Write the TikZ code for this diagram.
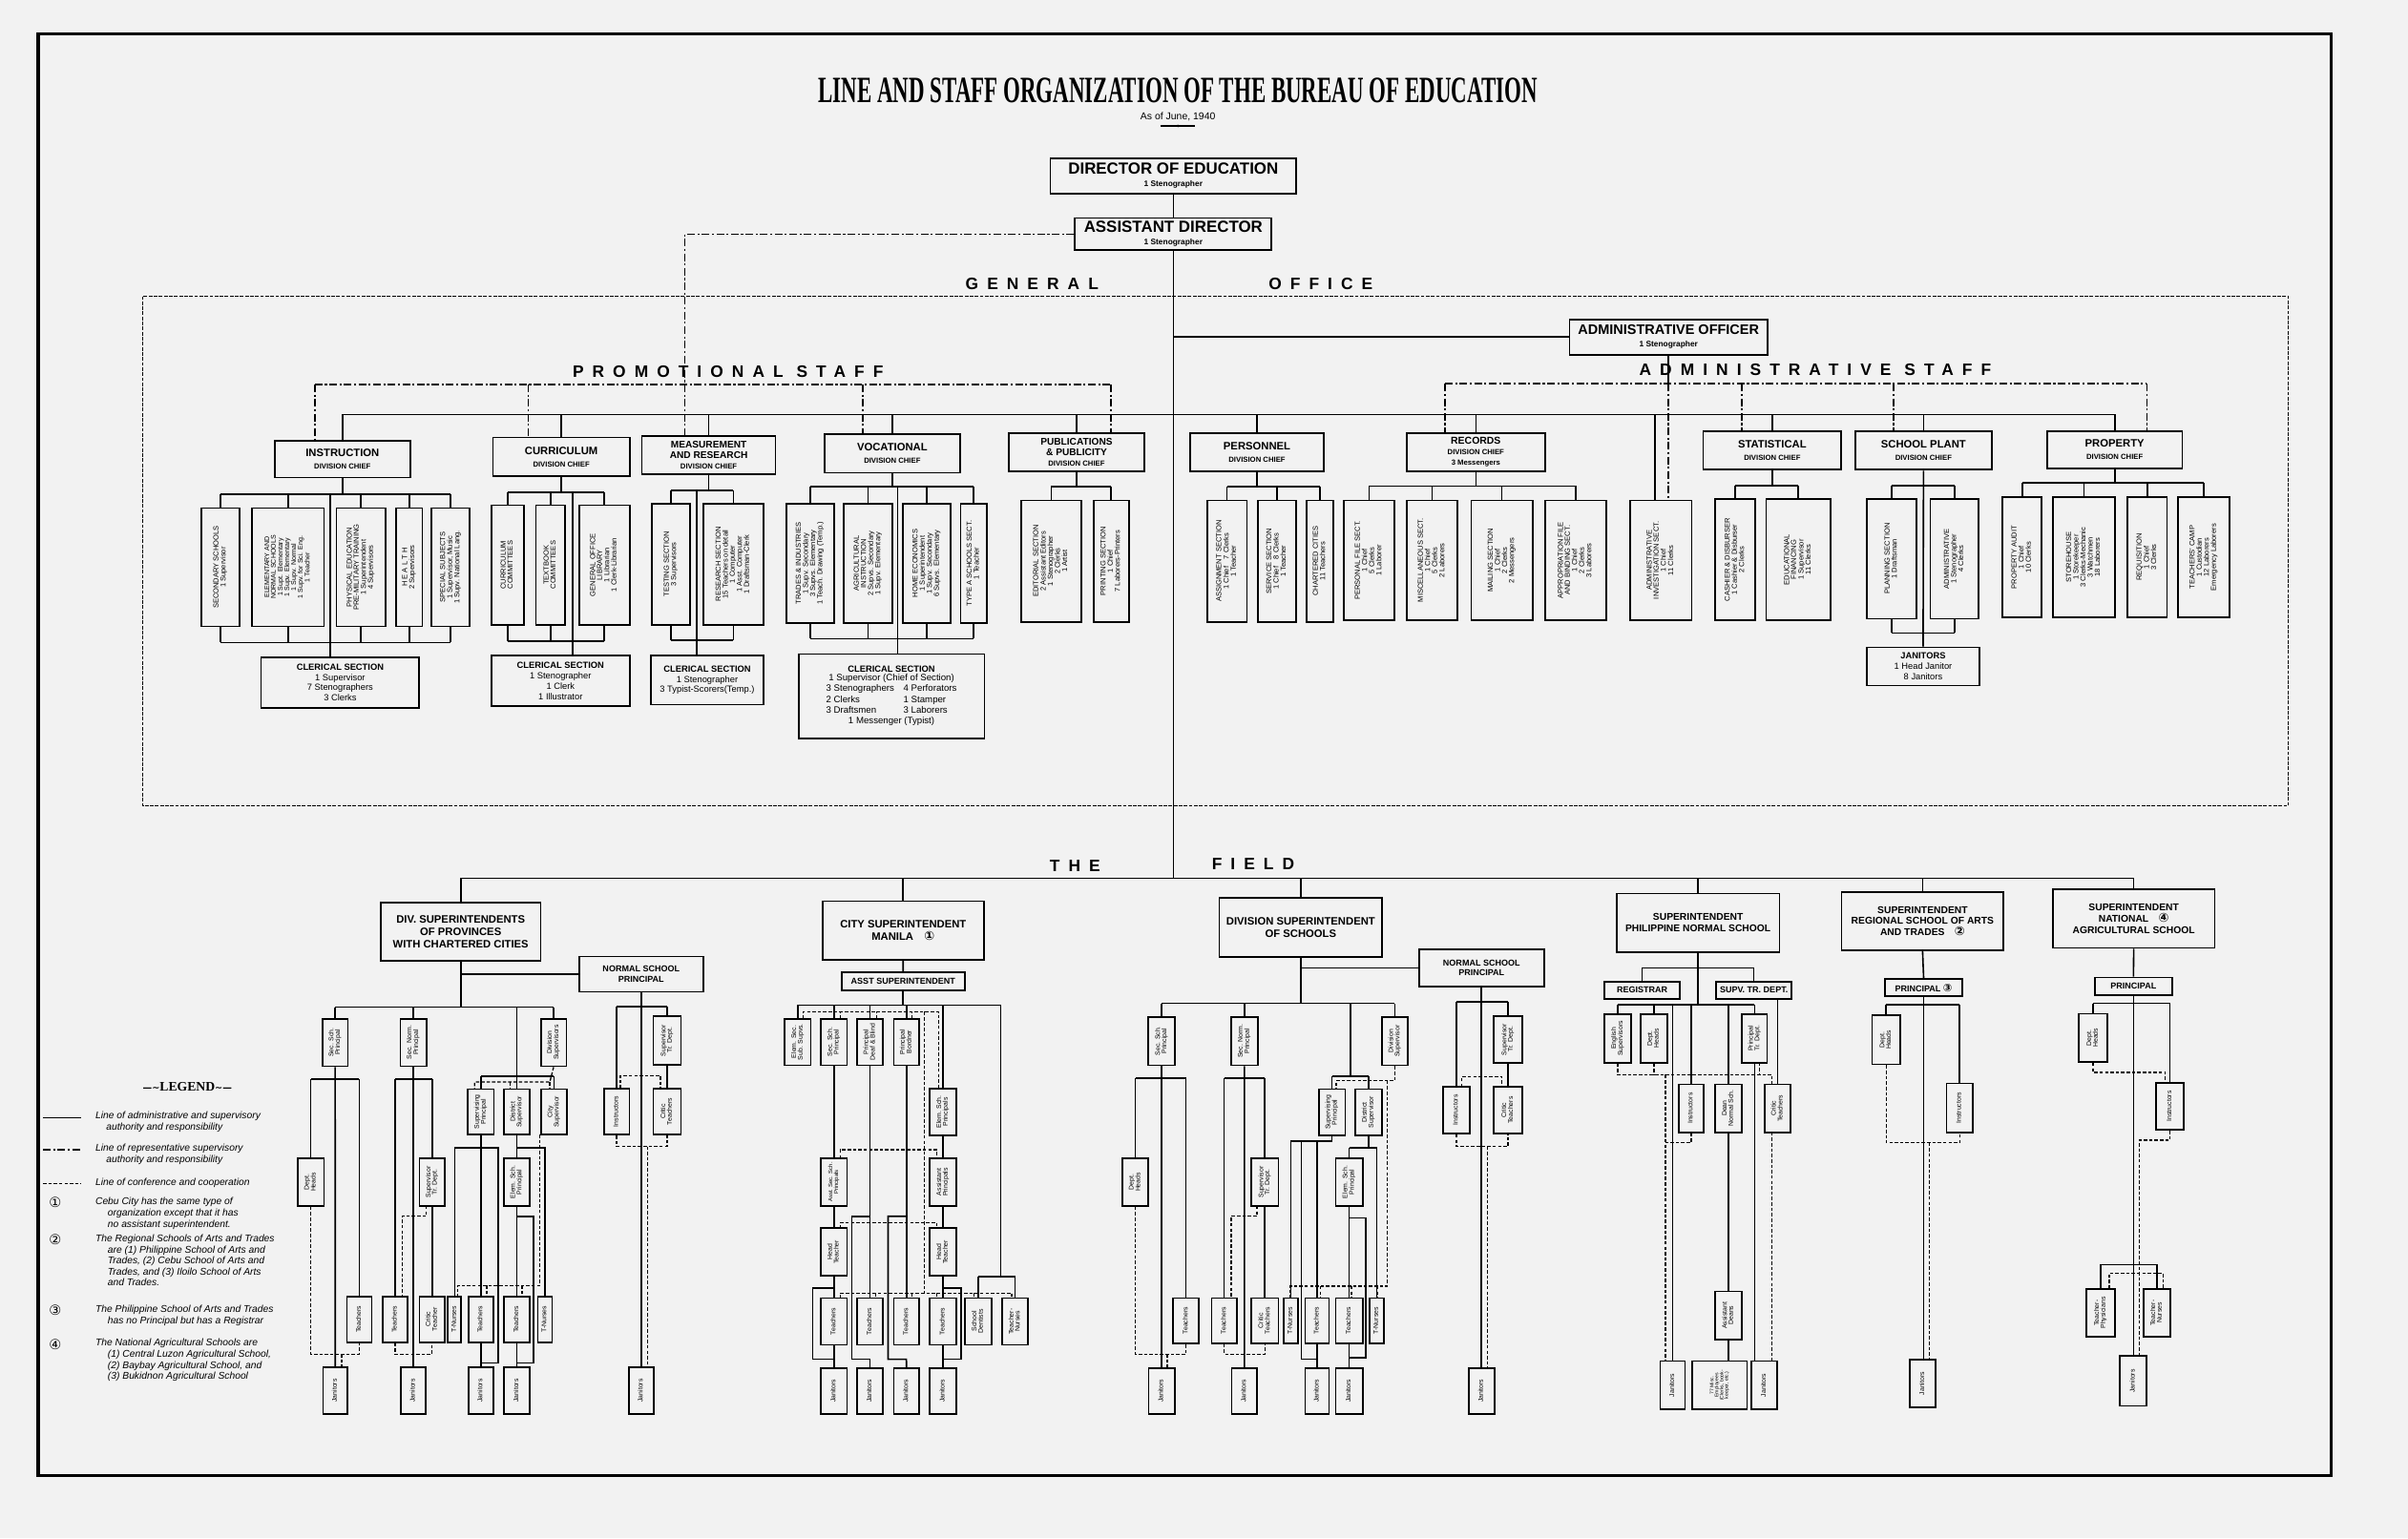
\documentclass[tikz,border=0pt]{standalone}
\usepackage{fontspec}
\usepackage{graphicx}
\setmainfont{Liberation Sans}
\newfontfamily\serifB{Liberation Serif}
\newfontfamily\spaceF[LetterSpace=52]{Liberation Sans}
\newfontfamily\djv{DejaVu Sans}
\pgfdeclarelayer{back}
\pgfdeclarelayer{bg}
\pgfsetlayers{back,bg,main}
\definecolor{paper}{gray}{0.95}
\renewcommand\arraystretch{0.8}
\newcommand\zD{\fontsize{10.5}{11.5}\selectfont\bfseries}
\newcommand\zS{\fontsize{5.2}{6}\selectfont}
\newcommand\zH{\fontsize{7}{8}\selectfont\bfseries}
\newcommand\zd{\fontsize{4.8}{5.6}\selectfont\bfseries}
\newcommand\zv{\fontsize{4.7}{5.3}\selectfont}
\newcommand\zj{\fontsize{4.3}{4.8}\selectfont}
\newcommand\zf{\fontsize{7}{8}\selectfont\bfseries}
\newcommand\zc{\fontsize{5.8}{6.6}\selectfont\bfseries}
\newcommand\zs{\fontsize{5.8}{6.7}\selectfont}
\newcommand\zF{\fontsize{5.6}{6.5}\selectfont\bfseries}
\tikzset{
 hb/.style={draw,line width=1.1pt,fill=paper,inner sep=0pt,align=center,font=\zH},
 vb/.style={hb,font=\zv},
 fj/.style={font=\zj},
 fh/.style={font=\zf},
 ln/.style={line width=1pt},
 dd/.style={line width=1.05pt,dash pattern=on 5pt off 1.6pt on 1.3pt off 1.6pt},
 ds/.style={line width=0.8pt,dash pattern=on 2.2pt off 1.3pt},
 go/.style={line width=0.9pt,dash pattern=on 2.4pt off 0.9pt},
 spc/.style={font=\spaceF\fontsize{10.8}{12}\selectfont\bfseries},
 leg/.style={font=\fontsize{6.4}{7.2}\selectfont\itshape,align=left,anchor=north west,inner sep=0pt},
 cn/.style={font=\djv\fontsize{9}{9}\selectfont,inner sep=0pt},
}
\newcommand\HB[7][]{\node[hb,#1,minimum width={(#5-#3)*1pt},minimum height={(#6-#4)*1pt}] (#2) at ({(#3+#5)/2},{(#4+#6)/2}) {#7};}
\newcommand\VB[7][]{\node[vb,#1,minimum width={(#5-#3)*1pt},minimum height={(#6-#4)*1pt}] (#2) at ({(#3+#5)/2},{(#4+#6)/2}) {\rotatebox{90}{\begin{tabular}{@{}c@{}}#7\end{tabular}}};}
\newcommand\Up[2]{\draw[ln] (#1.north) -- (#1.north |- 0,#2);}
\newcommand\Dn[2]{\draw[ln] (#1.south) -- (#1.south |- 0,#2);}
\begin{document}
\begin{tikzpicture}[x=1pt,y=-1pt]
\useasboundingbox (0,0) rectangle (1568,1002);
\begin{pgfonlayer}{back}
\fill[paper] (0,0) rectangle (1568,1002);
\end{pgfonlayer}
% ---------------- title -----------------
\node (title) at (767,59) {\resizebox{468pt}{16pt}{\serifB\bfseries LINE AND STAFF ORGANIZATION OF THE BUREAU OF EDUCATION}};
\node[font=\fontsize{6.5}{7}\selectfont] (asof) at (767,76) {As of June, 1940};
% ---------------- top -------------------
\HB{dir}{684}{103}{844}{126}{{\zD DIRECTOR OF EDUCATION}\\{\zS 1 Stenographer}}
\HB{asst}{700}{142}{828}{163}{{\zD ASSISTANT DIRECTOR}\\{\zS 1 Stenographer}}
\node[spc] (gen) at (672,185) {GENERAL};
\node[spc] (off) at (860,185) {OFFICE};
\HB{ao}{1022}{208}{1151}{231}{{\fontsize{9}{10}\selectfont\bfseries ADMINISTRATIVE OFFICER}\\{\zS 1 Stenographer}}
\node[spc] (pst) at (474,242) {PROMOTIONAL STAFF};
\node[spc] (ast) at (1182,241) {ADMINISTRATIVE STAFF};
% division boxes
\HB{inst}{179}{287}{267}{311}{INSTRUCTION\\{\zd DIVISION CHIEF}}
\HB{curr}{321}{285}{410}{310}{CURRICULUM\\{\zd DIVISION CHIEF}}
\HB[font=\fontsize{6.3}{6.6}\selectfont\bfseries]{meas}{418}{284}{505}{309}{MEASUREMENT\\AND RESEARCH\\{\zd DIVISION CHIEF}}
\HB{voc}{537}{283}{625}{308}{VOCATIONAL\\{\zd DIVISION CHIEF}}
\HB[font=\fontsize{6.3}{6.6}\selectfont\bfseries]{pub}{657}{282}{745}{307}{PUBLICATIONS\\\& PUBLICITY\\{\zd DIVISION CHIEF}}
\HB{pers}{775}{282}{862}{307}{PERSONNEL\\{\zd DIVISION CHIEF}}
\HB[font=\fontsize{6.5}{6.8}\selectfont\bfseries]{rec}{916}{282}{1006}{307}{RECORDS\\{\zd DIVISION CHIEF}\\{\zd 3 Messengers}}
\HB{stat}{1109}{281}{1199}{306}{STATISTICAL\\{\zd DIVISION CHIEF}}
\HB{sp}{1208}{281}{1297}{306}{SCHOOL PLANT\\{\zd DIVISION CHIEF}}
\HB{prop}{1333}{281}{1421}{305}{PROPERTY\\{\zd DIVISION CHIEF}}
% instruction
\VB{i1}{131}{331}{156}{408}{SECONDARY SCHOOLS\\1 Supervisor}
\VB[font=\fontsize{4.4}{5}\selectfont]{i2}{164}{331}{211}{408}{ELEMENTARY AND\\NORMAL SCHOOLS\\1 Supt. Elementary\\1 Supv. Elementary\\1 Supv. Normal\\1 Supv. for Sci. Eng.\\1 Teacher}
\VB{i3}{219}{331}{251}{408}{PHYSICAL EDUCATION\\PRE-MILITARY TRAINING\\1 Superintendent\\4 Supervisors}
\VB{i4}{258}{331}{275}{408}{H E A L T H\\2 Supervisors}
\VB{i5}{281}{331}{306}{408}{SPECIAL SUBJECTS\\1 Supervisor, Music\\1 Supv. National Lang.}
\HB[font=\zs]{icl}{170}{428}{273}{461}{{\zc CLERICAL SECTION}\\1 Supervisor\\7 Stenographers\\3 Clerks}
% curriculum
\VB{c1}{320}{329}{341}{407}{CURRICULUM\\COMMITTEES}
\VB{c2}{349}{329}{368}{407}{TEXTBOOK\\COMMITTEES}
\VB{c3}{377}{329}{410}{407}{GENERAL OFFICE\\LIBRARY\\1 Librarian\\1 Clerk-Librarian}
\HB[font=\zs]{ccl}{320}{427}{410}{460}{{\zc CLERICAL SECTION}\\1 Stenographer\\1 Clerk\\1 Illustrator}
% measurement
\VB{me1}{424.5}{328}{449.3}{407}{TESTING SECTION\\3 Supervisors}
\VB{me2}{458}{328}{497}{407}{RESEARCH SECTION\\15 Teachers on detail\\1 Computer\\1 Asst. Computer\\1 Draftsman-Clerk}
\HB[font=\zs]{mcl}{424}{427}{497}{459}{{\zc CLERICAL SECTION}\\1 Stenographer\\3 Typist-Scorers(Temp.)}
% vocational
\VB{v1}{512}{328}{543}{406}{TRADES \& INDUSTRIES\\1 Supv. Secondary\\3 Supvs. Elementary\\1 Teach. Drawing (Temp.)}
\VB{v2}{549.5}{328}{581}{406}{AGRICULTURAL\\INSTRUCTION\\2 Supvs. Secondary\\1 Supv. Elementary}
\VB{v3}{588}{328}{619}{406}{HOME ECONOMICS\\1 Superintendent\\1 Supv. Secondary\\6 Supvs. Elementary}
\VB{v4}{625.5}{328}{642.5}{406}{TYPE A SCHOOLS SECT.\\1 Teacher}
\HB[font=\zs]{vcl}{520}{426}{641}{481}{{\zc CLERICAL SECTION}\\{\fontsize{6}{6.6}\selectfont\def\arraystretch{1.05}\begin{tabular}{@{}l@{\hspace{6pt}}l@{}}\multicolumn{2}{@{}c@{}}{1 Supervisor (Chief of Section)}\\3 Stenographers & 4 Perforators\\2 Clerks & 1 Stamper\\3 Draftsmen & 3 Laborers\\\multicolumn{2}{@{}c@{}}{1 Messenger (Typist)}\end{tabular}}}
% publications
\VB{p1}{665}{326}{704}{405}{EDITORIAL SECTION\\2 Assistant Editors\\1 Stenographer\\2 Clerks\\1 Artist}
\VB{p2}{712}{326}{735}{405}{PRINTING SECTION\\1 Chief\\7 Laborers-Printers}
% personnel
\VB{pe1}{786}{326}{812}{405}{ASSIGNMENT SECTION\\1 Chief\quad 7 Clerks\\1 Teacher}
\VB{pe2}{819}{326}{844}{405}{SERVICE SECTION\\1 Chief\quad 8 Clerks\\1 Teacher}
\VB{pe3}{851}{326}{868}{405}{CHARTERED CITIES\\11 Teachers}
% records
\VB{r1}{875}{326}{908}{404}{PERSONAL FILE SECT.\\1 Chief\\5 Clerks\\1 Laborer}
\VB{r2}{916}{326}{949}{404}{MISCELLANEOUS SECT.\\1 Chief\\5 Clerks\\2 Laborers}
\VB{r3}{958}{326}{998}{404}{MAILING SECTION\\1 Chief\\2 Clerks\\2 Messengers}
\VB{r4}{1006}{326}{1046}{404}{APPROPRIATION FILE\\AND BINDING SECT.\\1 Chief\\2 Clerks\\3 Laborers}
\VB{ai}{1061.5}{326}{1101.5}{404}{ADMINISTRATIVE\\INVESTIGATION SECT.\\1 Chief\\11 Clerks}
% statistical
\VB{s1}{1117}{325}{1143}{404}{CASHIER \& DISBURSER\\1 Cashier \& Disburser\\2 Clerks}
\VB{s2}{1150}{325}{1192}{404}{EDUCATIONAL\\FINANCING\\1 Supervisor\\11 Clerks}
% school plant
\VB{sp1}{1215.5}{325}{1248}{403}{PLANNING SECTION\\1 Draftsman}
\VB{sp2}{1257}{325}{1288.5}{403}{ADMINISTRATIVE\\1 Stenographer\\4 Clerks}
\HB[font=\zs]{spj}{1215.5}{421.6}{1289}{446.5}{{\zc JANITORS}\\1 Head Janitor\\8 Janitors}
% property
\VB{pr1}{1304}{324}{1329.5}{402}{PROPERTY AUDIT\\1 Chief\\10 Clerks}
\VB{pr2}{1337}{324}{1377}{402}{STOREHOUSE\\1 Storekeeper\\3 Clerks-Mechanic\\3 Watchmen\\18 Laborers}
\VB{pr3}{1385.5}{324}{1411}{402}{REQUISITION\\1 Chief\\3 Clerks}
\VB{pr4}{1418}{324}{1452}{402}{TEACHERS' CAMP\\1 Custodian\\12 Laborers\\Emergency Laborers}
% ---------------- the field -------------------
\node[spc] (the) at (700,564) {THE};
\node[spc] (fld) at (816,563) {FIELD};
% column 1
\HB[fh]{dsp}{248}{588}{352}{626}{DIV. SUPERINTENDENTS\\OF PROVINCES\\WITH CHARTERED CITIES}
\HB[font=\zF]{nsp1}{377}{623}{458}{646}{NORMAL SCHOOL\\PRINCIPAL}
\VB[fj]{ssp}{210}{663.5}{226.5}{694.5}{Sec. Sch.\\Principal}
\VB[fj]{snp}{260.7}{663.5}{277.7}{694.5}{Sec. Norm.\\Principal}
\VB[fj]{dsup}{352.2}{663.5}{368.8}{694.5}{Division\\Supervisors}
\VB[fj]{supp}{304.6}{709.4}{321.6}{739}{Supervising\\Principal}
\VB[fj]{dist}{328}{709.4}{345}{739}{District\\Supervisor}
\VB[fj]{citys}{352.2}{709.4}{369.2}{739}{City\\Supervisor}
\VB[fj]{dh1}{193.8}{754.5}{211}{785.5}{Dept.\\Heads}
\VB[fj]{t1}{225.9}{844.4}{242}{874.3}{Teachers}
\VB[fj]{j1}{210.3}{890.5}{226.3}{921}{Janitors}
\VB[fj]{t2}{249.3}{844.4}{265.2}{874.3}{Teachers}
\VB[fj]{stt1}{273.1}{754.5}{289.7}{785.5}{Supervisor\\Tr. Dept.}
\VB[fj]{ct1}{273.1}{844.4}{289.7}{874.3}{Critic\\Teacher}
\VB[fj]{j2}{261}{890.5}{277.4}{921}{Janitors}
\VB[fj]{tn1}{291.7}{844.4}{300.4}{874.3}{T-Nurses}
\VB[fj]{t3}{305.1}{844.4}{321.1}{874.3}{Teachers}
\VB[fj]{j3}{305.1}{890.5}{321.1}{921}{Janitors}
\VB[fj]{esp1}{328}{754.5}{345}{785.5}{Elem. Sch.\\Principal}
\VB[fj]{t4}{328}{844.4}{345}{874.3}{Teachers}
\VB[fj]{j4}{328}{890.5}{345}{921}{Janitors}
\VB[fj]{tn2}{350.2}{844.4}{359.5}{874.3}{T-Nurses}
\VB[fj]{ins1}{393.3}{709}{409.8}{739}{Instructors}
\VB[fj]{stt2}{425.4}{662}{443.4}{693.4}{Supervisor\\Tr. Dept.}
\VB[fj]{ct2}{425.4}{709}{443.4}{739}{Critic\\Teachers}
\VB[fj]{j5}{409.5}{890.5}{425.5}{921}{Janitors}
% column 2 (Manila)
\HB[fh]{city}{535.6}{587}{640.6}{625}{CITY SUPERINTENDENT\\MANILA\quad{\djv\fontsize{8}{8}\selectfont ①}}
\HB[font=\zF]{asupt}{548}{633.5}{628.2}{645}{ASST SUPERINTENDENT}
\VB[fj]{k1}{511}{663.5}{528}{693.9}{Elem. Sec.\\Sub. Supvs.}
\VB[fj]{k2}{534.5}{663.5}{551.5}{693.9}{Sec. Sch.\\Principal}
\VB[fj]{k3}{558}{663.5}{575}{693.9}{Principal\\Deaf \& Blind}
\VB[fj]{k4}{582}{663.5}{598.5}{693.9}{Principal\\Bordner}
\VB[fj]{k5}{605.5}{709}{622.5}{739.6}{Elem. Sch.\\Principals}
\VB[fj,font=\fontsize{3.7}{4.2}\selectfont]{k6}{534.5}{754.5}{551.5}{785.5}{Asst. Sec. Sch.\\Principals}
\VB[fj]{k7}{605.5}{754.5}{622.5}{785.5}{Assistant\\Principals}
\VB[fj]{k8}{534.5}{800}{551.5}{831}{Head\\Teacher}
\VB[fj]{k9}{605.5}{800}{622.5}{831}{Head\\Teacher}
\VB[fj]{kt1}{534.5}{845.5}{551.5}{876}{Teachers}
\VB[fj]{kt2}{558}{845.5}{575}{876}{Teachers}
\VB[fj]{kt3}{582}{845.5}{598.5}{876}{Teachers}
\VB[fj]{kt4}{605.5}{845.5}{622.5}{876}{Teachers}
\VB[fj]{kd}{628.5}{845.5}{645.5}{876}{School\\Dentists}
\VB[fj]{kn}{652.5}{845.5}{669.5}{876}{Teacher-\\Nurses}
\VB[fj]{kj1}{534.5}{891}{551.5}{921}{Janitors}
\VB[fj]{kj2}{558}{891}{575}{921}{Janitors}
\VB[fj]{kj3}{582}{891}{598.5}{921}{Janitors}
\VB[fj]{kj4}{605.5}{891}{622.5}{921}{Janitors}
% column 3
\HB[fh]{dvs}{794}{585}{900}{623.5}{DIVISION SUPERINTENDENT\\OF SCHOOLS}
\HB[font=\zF]{nsp3}{924}{618.6}{1005.4}{642.4}{NORMAL SCHOOL\\PRINCIPAL}
\VB[fj]{ssp3}{747.8}{662.4}{765}{693.9}{Sec. Sch.\\Principal}
\VB[fj]{snp3}{801.7}{662.4}{818.9}{693.9}{Sec. Norm.\\Principal}
\VB[fj]{dsup3}{899.7}{662.4}{916.7}{693.9}{Division\\Supervisor}
\VB[fj]{supp3}{858.7}{709.4}{875.9}{739.6}{Supervising\\Principal}
\VB[fj]{dist3}{882.5}{709.4}{899.7}{739.6}{District\\Supervisor}
\VB[fj]{dh3}{730.9}{754.5}{747.8}{785.5}{Dept.\\Heads}
\VB[fj]{t5}{764}{845.5}{780.6}{875}{Teachers}
\VB[fj]{j6}{748}{891}{764.8}{921}{Janitors}
\VB[fj]{t6}{788.9}{845.5}{805.4}{875}{Teachers}
\VB[fj]{stt3}{814.8}{754.5}{832.4}{785.5}{Supervisor\\Tr. Dept.}
\VB[fj]{ct3}{814.8}{845.5}{832.4}{875}{Critic\\Teachers}
\VB[fj]{j7}{802}{891}{818.6}{921}{Janitors}
\VB[fj]{tn3}{835.9}{845.5}{845.2}{875}{T-Nurses}
\VB[fj]{t7}{849.8}{845.5}{865.4}{875}{Teachers}
\VB[fj]{j8}{849.8}{891}{865.4}{921}{Janitors}
\VB[fj]{esp3}{869.7}{754.5}{887.3}{785.5}{Elem. Sch.\\Principal}
\VB[fj]{t8}{869.7}{845.5}{887.3}{875}{Teachers}
\VB[fj]{j9}{869.7}{891}{887.3}{921}{Janitors}
\VB[fj]{tn4}{891.8}{845.5}{901.2}{875}{T-Nurses}
\VB[fj]{ins3}{939.5}{707.9}{957.1}{738.3}{Instructors}
\VB[fj]{stt4}{972.6}{661.9}{991.3}{692.3}{Supervisor\\Tr. Dept.}
\VB[fj]{ct4}{972.6}{707.9}{991.3}{738.3}{Critic\\Teachers}
\VB[fj]{j10}{956.4}{891}{973}{921}{Janitors}
% column 4 (PNS)
\HB[font=\fontsize{6.4}{7.4}\selectfont\bfseries]{pns}{1052.7}{582}{1158.7}{620}{SUPERINTENDENT\\PHILIPPINE NORMAL SCHOOL}
\HB[font=\zF]{regi}{1044.6}{639.4}{1094}{650.6}{REGISTRAR}
\HB[font=\zF]{stdp}{1117.4}{639.4}{1166.7}{650.6}{SUPV. TR. DEPT.}
\VB[fj]{eng}{1044.6}{660.7}{1062.2}{692.2}{English\\Supervisors}
\VB[fj]{dh4}{1068.1}{660.7}{1085.9}{692.2}{Dept.\\Heads}
\VB[fj]{ptd}{1134.4}{660.7}{1150.6}{692.2}{Principal\\Tr. Dept.}
\VB[fj]{ins4}{1093.2}{706.3}{1109.3}{737.6}{Instructors}
\VB[fj]{dean}{1116.6}{706.3}{1134.4}{737.6}{Dean\\Normal Sch.}
\VB[fj]{ct5}{1149.2}{706.3}{1165.9}{737.6}{Critic\\Teachers}
\VB[fj]{ad}{1116.6}{841.2}{1134.4}{872.4}{Assistant\\Deans}
\VB[fj]{jL}{1081}{886.6}{1097.2}{918.1}{Janitors}
\VB[font=\fontsize{3.2}{3.6}\selectfont]{misc}{1102}{886.6}{1137.6}{918.1}{77 Misc.\\Employees\\(Clerks, book-\\keeper, etc.)}
\VB[fj]{jR}{1140.3}{886.6}{1157.3}{918.1}{Janitors}
% column 5 (Regional)
\HB[font=\fontsize{6.4}{7.2}\selectfont\bfseries]{rsa}{1199.1}{581}{1304.7}{619}{SUPERINTENDENT\\REGIONAL SCHOOL OF ARTS\\AND TRADES\quad{\djv\fontsize{8}{8}\selectfont ②}}
\HB[font=\zF]{prin3}{1227.4}{637.8}{1277.8}{649}{PRINCIPAL {\djv\fontsize{7}{7}\selectfont ③}}
\VB[fj]{dh5}{1219}{661.4}{1237.4}{693.3}{Dept.\\Heads}
\VB[fj]{ins5}{1267.5}{705.7}{1284.5}{737.6}{Instructors}
\VB[fj]{jr5}{1243.5}{885.5}{1260.5}{916.9}{Janitors}
% column 6 (National)
\HB[font=\fontsize{6.4}{7.2}\selectfont\bfseries]{nas}{1336.6}{579.3}{1442.2}{617.5}{SUPERINTENDENT\\NATIONAL\quad{\djv\fontsize{8}{8}\selectfont ④}\\AGRICULTURAL SCHOOL}
\HB[font=\zF]{prin4}{1364}{636.7}{1414.4}{648.3}{PRINCIPAL}
\VB[fj]{dh6}{1353.8}{660.3}{1372.1}{691.7}{Dept.\\Heads}
\VB[fj]{ins6}{1404}{705.2}{1422}{736}{Instructors}
\VB[fj]{tp}{1358.7}{839.4}{1377}{870.9}{Teacher-\\Physicians}
\VB[fj]{tn6}{1395.8}{839.4}{1413.1}{870.9}{Teacher-\\Nurses}
\VB[fj]{jr6}{1380.5}{883.2}{1397.5}{915.8}{Janitors}
% ---------------- legend -------------------
\node[font=\serifB\bfseries\fontsize{8.5}{9}\selectfont] (legt) at (122,708) {{\djv\fontsize{6}{6}\selectfont —∼}LEGEND{\djv\fontsize{6}{6}\selectfont ∼—}};
\node[leg] (lg1) at (62,724) {Line of administrative and supervisory\\\hspace*{7pt}authority and responsibility};
\node[leg] (lg2) at (62,745) {Line of representative supervisory\\\hspace*{7pt}authority and responsibility};
\node[leg] (lg3) at (62,767.5) {Line of conference and cooperation};
\node[cn] (n1) at (36,783.5) {①};
\node[leg] (lg4) at (62,780) {Cebu City has the same type of\\\hspace*{8pt}organization except that it has\\\hspace*{8pt}no assistant superintendent.};
\node[cn] (n2) at (36,807.5) {②};
\node[leg] (lg5) at (62,804) {The Regional Schools of Arts and Trades\\\hspace*{8pt}are (1) Philippine School of Arts and\\\hspace*{8pt}Trades, (2) Cebu School of Arts and\\\hspace*{8pt}Trades, and (3) Iloilo School of Arts\\\hspace*{8pt}and Trades.};
\node[cn] (n3) at (36,853.5) {③};
\node[leg] (lg6) at (62,850) {The Philippine School of Arts and Trades\\\hspace*{8pt}has no Principal but has a Registrar};
\node[cn] (n4) at (36,875.5) {④};
\node[leg] (lg7) at (62,872) {The National Agricultural Schools are\\\hspace*{8pt}(1) Central Luzon Agricultural School,\\\hspace*{8pt}(2) Baybay Agricultural School, and\\\hspace*{8pt}(3) Bukidnon Agricultural School};
\coordinate (la1) at (28,728); \coordinate (lb1) at (53,728);
\coordinate (la2) at (28,749); \coordinate (lb2) at (53,749);
\coordinate (la3) at (28,771); \coordinate (lb3) at (53,771);
% ================= connectors ================
\begin{pgfonlayer}{bg}
\draw[line width=2.2pt] (25,22) rectangle (1518,961);
\draw[go] (93,193) rectangle (1490,525);
\draw[ln] (la1) -- (lb1);
\draw[dd] (la2) -- (lb2);
\draw[ds] (la3) -- (lb3);
\draw[ln] (756,82) -- (778,82); \fill (767,82) circle (0.9);
% top spine
\draw[ln] (dir.south) -- (asst.north);
\draw[ln] (asst.south) -- (asst.south |- 0,572);
\draw[ln] (asst.south |- ao.west) -- (ao.west);
\draw[dd] (asst.west) -- (446,152.5) -- (meas.north -| 446,0);
% promotional dash-dot
\draw[dd] (205,250.5) -- (723.6,250.5);
\draw[dd] (205,250.5) -- (inst.north -| 205,0);
\draw[dd] (344,250.5) -- (curr.north -| 344,0);
\draw[dd] (562,250.5) -- (voc.north -| 562,0);
\draw[dd] (723.6,250.5) -- (pub.north -| 723.6,0);
% administrative dash-dot
\draw[dd] (941,250) -- (1398,250);
\draw[dd] (941,250) -- (rec.north -| 941,0);
\draw[dd] (1134,250) -- (stat.north -| 1134,0);
\draw[dd] (1233,250) -- (sp.north -| 1233,0);
\draw[dd] (1398,250) -- (prop.north -| 1398,0);
\draw[ln] (ao.south) -- (ao.south |- 0,250);
\draw[dd] (ao.south |- 0,250) -- (ai.north -| ao.south);
% main bus
\draw[ln] (inst.north |- 0,270) -- (prop.north |- 0,270);
\foreach \n in {inst,curr,meas,voc,pub,pers,rec,stat,sp,prop} {\Up{\n}{270}}
\draw[ln] (1077.5,270) -- (ai.north -| 1077.5,0);
% instruction
\Dn{inst}{322}
\draw[ln] (i1.north |- 0,322) -- (i5.north |- 0,322);
\draw[ln] (i1.south |- 0,418.5) -- (i5.south |- 0,418.5);
\foreach \n in {i1,i2,i3,i4,i5} {\Up{\n}{322}\Dn{\n}{418.5}}
\draw[ln] (215,322) -- (icl.north -| 215,0);
% curriculum
\Dn{curr}{320.7}
\draw[ln] (c1.north |- 0,320.7) -- (c3.north |- 0,320.7);
\draw[ln] (c1.south |- 0,417.5) -- (c3.south |- 0,417.5);
\foreach \n in {c1,c2,c3} {\Up{\n}{320.7}\Dn{\n}{417.5}}
\draw[ln] (373,320.7) -- (ccl.north -| 373,0);
% measurement
\Dn{meas}{319.5}
\draw[ln] (me1.north |- 0,319.5) -- (me2.north |- 0,319.5);
\draw[ln] (me1.south |- 0,417) -- (me2.south |- 0,417);
\foreach \n in {me1,me2} {\Up{\n}{319.5}\Dn{\n}{417}}
\draw[ln] (453.6,319.5) -- (mcl.north -| 453.6,0);
% vocational
\Dn{voc}{317}
\draw[ln] (v1.north |- 0,317) -- (v4.north |- 0,317);
\draw[ln] (v1.south |- 0,416) -- (v4.south |- 0,416);
\foreach \n in {v1,v2,v3,v4} {\Up{\n}{317}\Dn{\n}{416}}
\draw[ln] (584.5,317) -- (vcl.north -| 584.5,0);
% publications
\Dn{pub}{317}
\draw[ln] (p1.north |- 0,317) -- (p2.north |- 0,317);
\foreach \n in {p1,p2} {\Up{\n}{317}}
% personnel
\Dn{pers}{317}
\draw[ln] (pe1.north |- 0,317) -- (pe3.north |- 0,317);
\foreach \n in {pe1,pe2,pe3} {\Up{\n}{317}}
% records
\Dn{rec}{316.6}
\draw[ln] (r1.north |- 0,316.6) -- (r4.north |- 0,316.6);
\foreach \n in {r1,r2,r3,r4} {\Up{\n}{316.6}}
% statistical
\Dn{stat}{316.4}
\draw[ln] (s1.north |- 0,316.4) -- (s2.north |- 0,316.4);
\foreach \n in {s1,s2} {\Up{\n}{316.4}}
% school plant
\draw[ln] (sp.south) -- (spj.north);
\draw[ln] (sp1.north |- 0,316.4) -- (sp2.north |- 0,316.4);
\draw[ln] (sp1.south |- 0,412.3) -- (sp2.south |- 0,412.3);
\foreach \n in {sp1,sp2} {\Up{\n}{316.4}\Dn{\n}{412.3}}
% property
\Dn{prop}{314.5}
\draw[ln] (pr1.north |- 0,314.5) -- (pr4.north |- 0,314.5);
\foreach \n in {pr1,pr2,pr3,pr4} {\Up{\n}{314.5}}
% ---------- field ----------
\draw[ln] (dsp.north |- 0,572) -- (nas.north |- 0,572);
\foreach \n in {dsp,city,dvs,pns,rsa,nas} {\Up{\n}{572}}
% column 1
\draw[ln] (dsp.south) -- (dsp.south |- 0,656);
\draw[ln] (dsp.south |- nsp1.west) -- (nsp1.west);
\draw[ln] (ssp.north |- 0,656) -- (dsup.north |- 0,656);
\foreach \n in {ssp,snp,dsup} {\Up{\n}{656}}
\draw[ln] (336.5,656) -- (336.5,701.2);
\draw[ln] (supp.north |- 0,701.2) -- (citys.north |- 0,701.2);
\foreach \n in {supp,dist,citys} {\Up{\n}{701.2}}
\draw[ln] (ssp.south) -- (j1.north);
\draw[ln] (dh1.north |- 0,702.7) -- (t1.north |- 0,702.7);
\Up{dh1}{702.7} \Up{t1}{702.7}
\draw[ds] (dh1.south) -- (dh1.south |- 0,882) -- (t1.south |- 0,882) -- (t1.south);
\draw[ds] (222.5,882) -- (222.5,890.5);
\draw[ln] (snp.south) -- (j2.north);
\draw[ln] (t2.north |- 0,702.7) -- (stt1.north |- 0,702.7);
\Up{t2}{702.7} \Up{stt1}{702.7}
\draw[ln] (stt1.south) -- (ct1.north);
\draw[ds] (277.6,785.5) -- (277.6,792.2) -- (262,792.2) -- (262,844.4);
\draw[ds] (t2.south) -- (t2.south |- 0,882) -- (ct1.south |- 0,882) -- (ct1.south);
\draw[ln] (supp.south) -- (t3.north); \draw[ln] (t3.south) -- (j3.north);
\draw[ln] (tn1.north |- 0,747.8) -- (324.3,747.8) -- (324.3,887.7) -- (313.1,887.7);
\Up{tn1}{747.8}
\draw[ln] (dist.south) -- (esp1.north);
\draw[ln] (336.5,747.8) -- (tn2.north |- 0,747.8) -- (tn2.north);
\draw[ln] (esp1.south) -- (t4.north); \draw[ln] (t4.south) -- (j4.north);
\draw[ln] (336.5,792.2) -- (347.3,792.2) -- (347.3,887.7) -- (336.5,887.7);
\draw[ds] (dsup.south) -- (358,704.8) -- (309,704.8) -- (309,709.4);
\draw[ds] (332,704.8) -- (332,709.4); \draw[ds] (358,704.8) -- (358,709.4);
\draw[ds] (351.5,739) -- (351.5,837.3) -- (298,837.3) -- (298,844.4);
\draw[ds] (317,837.3) -- (317,844.4); \draw[ds] (340,837.3) -- (340,844.4); \draw[ds] (355,837.3) -- (355,844.4);
\draw[ln] (nsp1.south) -- (j5.north);
\draw[ln] (ins1.north |- 0,655.7) -- (stt2.north |- 0,655.7);
\Up{ins1}{655.7} \Up{stt2}{655.7}
\draw[ln] (stt2.south) -- (ct2.north);
\draw[ds] (404,709) -- (404,700.5) -- (430,700.5) -- (430,709);
\draw[ds] (ins1.south) -- (ins1.south |- 0,746.7) -- (ct2.south |- 0,746.7) -- (ct2.south);
\draw[ds] (421.6,746.7) -- (421.6,890.5);
% column 2
\draw[ln] (city.south) -- (asupt.north);
\draw[ln] (asupt.south) -- (asupt.south |- 0,654.6);
\draw[ln] (k1.north |- 0,654.6) -- (651.6,654.6);
\foreach \n in {k1,k2,k3,k4} {\Up{\n}{654.6}}
\Up{k5}{654.6}
\draw[ln] (k2.south) -- (k6.north); \draw[ln] (k6.south) -- (k8.north); \draw[ln] (k8.south) -- (kt1.north); \draw[ln] (kt1.south) -- (kj1.north);
\draw[ln] (k3.south) -- (kt2.north);
\draw[ln] (k4.south) -- (kt3.north);
\draw[ln] (k5.south) -- (k7.north); \draw[ln] (k7.south) -- (k9.north); \draw[ln] (k9.south) -- (kt4.north); \draw[ln] (kt4.south) -- (kj4.north);
\draw[ln] (543,838.8) -- (529.3,838.8) -- (529.3,885.4) -- (543,885.4);
\draw[ln] (566.5,792.2) -- (554.6,792.2) -- (554.6,885.4) -- (566.5,885.4) -- (kj2.north);
\draw[ln] (590.2,792.2) -- (578.3,792.2) -- (578.3,885.4) -- (590.2,885.4) -- (kj3.north);
\draw[ln] (614,838.8) -- (625.7,838.8) -- (625.7,885.4) -- (614,885.4);
\draw[ln] (651.6,654.6) -- (651.6,831.5);
\draw[ln] (kd.north |- 0,831.5) -- (kn.north |- 0,831.5);
\Up{kd}{831.5} \Up{kn}{831.5}
\draw[ds] (523,663.5) -- (523,659) -- (611,659) -- (611,709);
\draw[ds] (547,663.5) -- (547,659); \draw[ds] (571,663.5) -- (571,659); \draw[ds] (594,663.5) -- (594,659);
\draw[ds] (601.8,659) -- (601.8,842.2);
\draw[ds] (547,754.5) -- (547,748.9) -- (610,748.9) -- (610,754.5);
\draw[ds] (547,800) -- (547,796.6) -- (610,796.6) -- (610,800);
\draw[ds] (547,845.5) -- (547,842.2) -- (658.8,842.2) -- (658.8,845.5);
\foreach \x in {570,594,610,634} {\draw[ds] (\x,842.2) -- (\x,845.5);}
% column 3
\draw[ln] (dvs.south) -- (dvs.south |- 0,653.5);
\draw[ln] (dvs.south |- nsp3.west) -- (nsp3.west);
\draw[ln] (ssp3.north |- 0,653.5) -- (dsup3.north |- 0,653.5);
\foreach \n in {ssp3,snp3,dsup3} {\Up{\n}{653.5}}
\draw[ln] (879.4,653.5) -- (879.4,701.2);
\draw[ln] (supp3.north |- 0,701.2) -- (dist3.north |- 0,701.2);
\foreach \n in {supp3,dist3} {\Up{\n}{701.2}}
\draw[ln] (ssp3.south) -- (j6.north);
\draw[ln] (dh3.north |- 0,702.3) -- (t5.north |- 0,702.3);
\Up{dh3}{702.3} \Up{t5}{702.3}
\draw[ds] (dh3.south) -- (dh3.south |- 0,882) -- (t5.south |- 0,882) -- (t5.south);
\draw[ds] (760,882) -- (760,891);
\draw[ln] (snp3.south) -- (j7.north);
\draw[ln] (t6.north |- 0,702.3) -- (stt3.north |- 0,702.3);
\Up{t6}{702.3} \Up{stt3}{702.3}
\draw[ln] (stt3.south) -- (ct3.north);
\draw[ds] (818.5,785.5) -- (818.5,792.2) -- (801.7,792.2) -- (801.7,845.5);
\draw[ds] (t6.south) -- (t6.south |- 0,882) -- (ct3.south |- 0,882) -- (ct3.south);
\draw[ln] (supp3.south) -- (supp3.south |- 0,743.4) -- (tn3.north |- 0,743.4) -- (tn3.north);
\draw[ln] (t7.north |- 0,743.4) -- (t7.north); \draw[ln] (t7.south) -- (j8.north);
\draw[ln] (847.5,743.4) -- (847.5,885.4) -- (857.6,885.4);
\draw[ln] (dist3.south) -- (dist3.south |- 0,747.8);
\draw[ln] (esp3.north |- 0,747.8) -- (tn4.north |- 0,747.8);
\Up{esp3}{747.8} \Up{tn4}{747.8}
\draw[ln] (esp3.south) -- (t8.north); \draw[ln] (t8.south) -- (j9.north);
\draw[ln] (878.5,793.3) -- (889.5,793.3) -- (889.5,884.3) -- (878.5,884.3);
\draw[ds] (dsup3.south) -- (908.2,704) -- (870,704) -- (870,709.4);
\draw[ds] (903.5,704) -- (903.5,837.7) -- (840,837.7) -- (840,845.5);
\foreach \x in {860,880,897} {\draw[ds] (\x,837.7) -- (\x,845.5);}
\draw[ln] (nsp3.south) -- (j10.north);
\draw[ln] (ins3.north |- 0,652.4) -- (stt4.north |- 0,652.4);
\Up{ins3}{652.4} \Up{stt4}{652.4}
\draw[ln] (stt4.south) -- (ct4.north);
\draw[ds] (952,707.9) -- (952,701.2) -- (978,701.2) -- (978,707.9);
\draw[ds] (ins3.south) -- (ins3.south |- 0,746.7) -- (ct4.south |- 0,746.7) -- (ct4.south);
\draw[ds] (968.5,746.7) -- (968.5,891);
% column 4
\draw[ln] (pns.south) -- (pns.south |- 0,654.4);
\draw[ln] (regi.north |- 0,630.4) -- (stdp.north |- 0,630.4);
\Up{regi}{630.4} \Up{stdp}{630.4}
\draw[ln] (eng.north |- 0,654.4) -- (ptd.north |- 0,654.4);
\foreach \n in {eng,dh4,ptd} {\Up{\n}{654.4}}
\draw[ln] (ins4.north |- 0,654.4) -- (ins4.north);
\draw[ln] (dean.north |- 0,654.4) -- (dean.north);
\draw[ln] (1089.1,654.4) -- (jL.north -| 1089.1,0);
\draw[ln] (1157.5,650.6) -- (ct5.north -| 1157.5,0);
\draw[ln] (dean.south) -- (ad.north); \draw[ln] (ad.south) -- (misc.north -| ad.south);
\draw[ln] (ptd.south) -- (jR.north -| ptd.south);
\draw[ds] (eng.south) -- (eng.south |- 0,700) -- (1153.8,700) -- (1153.8,706.3);
\draw[ds] (dh4.south) -- (dh4.south |- 0,700);
\draw[ds] (1145.7,692.2) -- (1145.7,700);
\draw[ds] (1084.5,700) -- (1084.5,886.6);
\draw[ds] (ins4.south) -- (ins4.south |- 0,744.3) -- (1084.5,744.3);
\draw[ds] (1153.8,737.6) -- (1153.8,886.6);
% column 5
\draw[ln] (rsa.south) -- (prin3.north);
\draw[ln] (prin3.south) -- (jr5.north -| prin3.south);
\draw[ln] (dh5.north |- 0,654.4) -- (ins5.north |- 0,654.4);
\Up{dh5}{654.4} \Up{ins5}{654.4}
\draw[ds] (dh5.south) -- (dh5.south |- 0,744.3) -- (ins5.south |- 0,744.3) -- (ins5.south);
\draw[ds] (1256.5,744.3) -- (1256.5,885.5);
% column 6
\draw[ln] (nas.south) -- (prin4.north);
\draw[ln] (prin4.south) -- (jr6.north -| prin4.south);
\draw[ln] (dh6.north |- 0,653.5) -- (ins6.north |- 0,653.5);
\Up{dh6}{653.5} \Up{ins6}{653.5}
\draw[ln] (tp.north |- 0,823.7) -- (tn6.north |- 0,823.7);
\Up{tp}{823.7} \Up{tn6}{823.7}
\draw[ds] (dh6.south) -- (dh6.south |- 0,698.5) -- (1409.9,698.5) -- (1409.9,705.2);
\draw[ds] (ins6.south) -- (ins6.south |- 0,742.7) -- (1393,742.7) -- (1393,883.2);
\draw[ds] (1373.5,839.4) -- (1373.5,829.3) -- (1408.5,829.3) -- (1408.5,839.4);
\end{pgfonlayer}
\end{tikzpicture}
\end{document}
